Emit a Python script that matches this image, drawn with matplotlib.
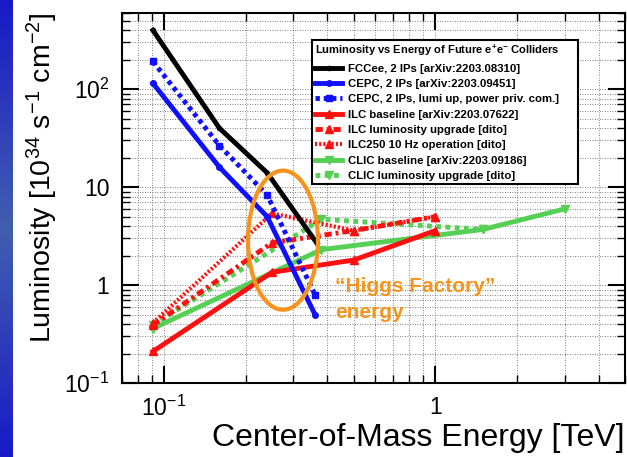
import numpy as np
import matplotlib
matplotlib.use('Agg')
import matplotlib.pyplot as plt
from matplotlib.patches import Ellipse
from matplotlib.ticker import FixedLocator, FixedFormatter, LogLocator, NullFormatter

plt.rcParams['font.family'] = ['Liberation Sans', 'DejaVu Sans']
plt.rcParams['mathtext.fontset'] = 'custom'
plt.rcParams['mathtext.rm'] = 'Liberation Sans'
plt.rcParams['mathtext.it'] = 'Liberation Sans:italic'
plt.rcParams['mathtext.bf'] = 'Liberation Sans:bold'
plt.rcParams['mathtext.default'] = 'regular'

# energy [TeV] vs luminosity [1e34 /s/cm^2]
fcc_e = [0.091, 0.16, 0.24, 0.365]
fcc_l = [400, 40, 14, 2.7]
cepc_e = [0.091, 0.16, 0.24, 0.36]
cepc_l = [115, 16, 5.0, 0.5]
cepc_up_l = [192, 26.6, 8.3, 0.8]
ilc_e = [0.091, 0.25, 0.5, 1.0]
ilc_l = [0.21, 1.35, 1.8, 3.6]
ilc_up_l = [0.39, 2.7, 3.6, 5.0]
ilc10_l = [0.41, 5.4, 3.6, 5.0]
clic_e = [0.091, 0.38, 1.5, 3.0]
clic_l = [0.36, 2.3, 3.7, 6.0]
clic_up_e = [0.091, 0.38, 1.5]
clic_up_l = [0.39, 4.7, 3.7]

labels = ['FCCee, 2 IPs [arXiv:2203.08310]',
          'CEPC, 2 IPs [arXiv:2203.09451]',
          'CEPC, 2 IPs, lumi up, power priv. com.]',
          'ILC baseline [arXiv:2203.07622]',
          'ILC luminosity upgrade [dito]',
          'ILC250 10 Hz operation [dito]',
          'CLIC baseline [arXiv:2203.09186]',
          'CLIC luminosity upgrade [dito]']

x_ticks = [0.1, 1]
x_ticklabels = ['$10^{-1}$', '1']
y_ticks = [0.1, 1, 10, 100]
y_ticklabels = ['$10^{-1}$', '1', '10', '$10^{2}$']

orange = '#F7941D'

fig = plt.figure(figsize=(6.27, 4.57), dpi=100)

# blue slide strip on the left
bax = fig.add_axes([0, 0, 13/627, 1])
t = np.linspace(0, 1, 200)
top = np.array([25, 25, 200]) / 255
mid = np.array([65, 95, 175]) / 255
w = 1 - np.abs(t - 0.5) * 2
grad = (top[None, :] * (1 - w[:, None]) + mid[None, :] * w[:, None])
bax.imshow(grad[:, None, :], aspect='auto', extent=[0, 1, 0, 1])
bax.axis('off')

ax = fig.add_axes([122/627, 74/457, 503/627, 370/457])
ax.set_xscale('log')
ax.set_yscale('log')

# draw back-to-front: CLIC, ILC, CEPC, FCC
h = {}
h[7], = ax.plot(clic_up_e, clic_up_l, color='#55D055', lw=3.5, ls=(0, (1, 0.9)),
                marker='v', ms=6)
h[6], = ax.plot(clic_e, clic_l, color='#55D055', lw=3.5, marker='v', ms=6)
h[5], = ax.plot(ilc_e, ilc10_l, color='#FF1010', lw=3, ls=(0, (0.5, 0.5)),
                marker='^', ms=6)
h[4], = ax.plot(ilc_e, ilc_up_l, color='#FF1010', lw=3.5, ls=(0, (1.5, 0.8, 0.6, 0.8)),
                marker='^', ms=6)
h[3], = ax.plot(ilc_e, ilc_l, color='#FF1010', lw=3.5, marker='^', ms=6)
h[2], = ax.plot(cepc_e, cepc_up_l, color='#1010FF', lw=3.5, ls=(0, (0.9, 0.8)),
                marker='s', ms=4)
h[1], = ax.plot(cepc_e, cepc_l, color='#1010FF', lw=3.5, marker='o', ms=4)
h[0], = ax.plot(fcc_e, fcc_l, color='black', lw=3.5, marker='o', ms=3)

ax.set_xlim(0.07, 5.0)
ax.set_ylim(0.1, 600)

ax.xaxis.set_major_locator(FixedLocator(x_ticks))
ax.xaxis.set_major_formatter(FixedFormatter(x_ticklabels))
ax.xaxis.set_minor_locator(LogLocator(base=10, subs=range(2, 10), numticks=20))
ax.xaxis.set_minor_formatter(NullFormatter())
ax.yaxis.set_major_locator(FixedLocator(y_ticks))
ax.yaxis.set_major_formatter(FixedFormatter(y_ticklabels))
ax.yaxis.set_minor_locator(LogLocator(base=10, subs=range(2, 10), numticks=20))
ax.yaxis.set_minor_formatter(NullFormatter())

ax.tick_params(which='both', direction='in', top=True, right=True, labelsize=16.5)
ax.tick_params(which='major', length=12, width=1.5, pad=9)
ax.tick_params(which='minor', length=6, width=1)
ax.grid(which='both', color='#555555', lw=0.6, ls=(0, (1, 2)))
for s in ax.spines.values():
    s.set_linewidth(1.5)

ax.set_xlabel('Center-of-Mass Energy [TeV]', fontsize=23, loc='right', labelpad=2)
ax.set_ylabel('Luminosity [10$^{34}$ s$^{-1}$ cm$^{-2}$]', fontsize=20.5, loc='top',
              labelpad=3)

leg = ax.legend([h[i] for i in range(8)], labels, loc='upper left',
                bbox_to_anchor=(312/627, 1 - 180/457, 266/627, 140/457),
                bbox_transform=fig.transFigure, mode='expand',
                title='Luminosity vs Energy of Future e$^{+}$e$^{-}$ Colliders',
                title_fontproperties={'weight': 'bold', 'size': 8},
                alignment='left', fontsize=8.2, frameon=True, fancybox=False,
                edgecolor='black', framealpha=1, borderpad=0.25, labelspacing=0.47,
                handlelength=2.4, handletextpad=0.5, borderaxespad=0, numpoints=1)
leg.get_frame().set_linewidth(1.5)
for txt in leg.get_texts():
    txt.set_fontweight('bold')
leg.set_zorder(10)

# Higgs factory marker
ax.add_patch(Ellipse((0.32, 0.386), 0.139, 0.376, transform=ax.transAxes,
                     fill=False, ec=orange, lw=3, zorder=6))
fig.text(335/627, 1 - 287/457, '\u201cHiggs Factory\u201d', color=orange,
         fontsize=15, fontweight='bold', va='center', ha='left')
fig.text(335/627, 1 - 313/457, 'energy', color=orange,
         fontsize=15, fontweight='bold', va='center', ha='left')

fig.savefig('out.png', dpi=100)
